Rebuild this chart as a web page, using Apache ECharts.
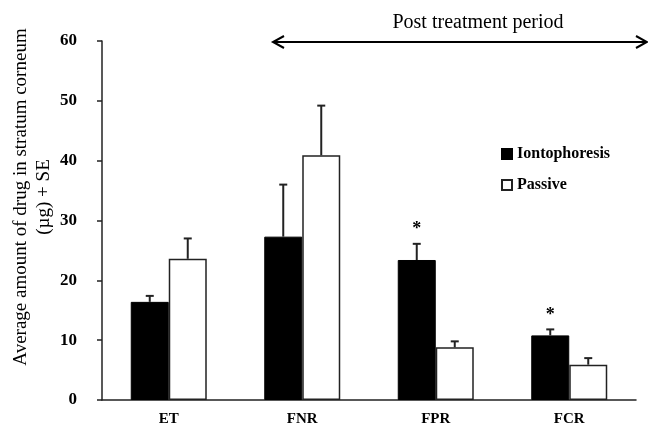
<!DOCTYPE html>
<html>
<head>
<meta charset="utf-8">
<script src="https://cdn.jsdelivr.net/npm/echarts@6/dist/echarts.min.js"></script>
<style>
  html, body { margin: 0; padding: 0; background: #fff; }
  #mycharts { width: 648px; height: 435px; }
</style>
</head>
<body>
<div id="mycharts"></div>
<script>
// data
var categories = ["ET", "FNR", "FPR", "FCR"];
var ionto = [16.4, 27.3, 23.4, 10.8];
var iontoSE = [1.0, 8.7, 2.7, 1.0];
var passive = [23.6, 40.9, 8.8, 5.9];
var passiveSE = [3.4, 8.3, 1.0, 1.1];
var starred = [false, false, true, true];
var yTicks = { min: 0, max: 60, interval: 10 };

var serif = "Liberation Serif";
var barW = 38;

function errData(vals, se) {
  return vals.map(function (v, i) { return [i, v, v + se[i]]; });
}

function errRender(offset) {
  return function (params, api) {
    var top = api.coord([api.value(0), api.value(2)]);
    var bot = api.coord([api.value(0), api.value(1)]);
    var x = top[0] + offset;
    var style = { stroke: "#222", lineWidth: 2 };
    return {
      type: "group",
      children: [
        { type: "line", shape: { x1: x, y1: bot[1], x2: x, y2: top[1] }, style: style },
        { type: "line", shape: { x1: x - 4, y1: top[1], x2: x + 4, y2: top[1] }, style: style }
      ]
    };
  };
}

var starData = [];
ionto.forEach(function (v, i) {
  if (starred[i]) starData.push([i, v + iontoSE[i]]);
});

var myCharts = echarts.init(document.getElementById("mycharts"));
var option = {
  backgroundColor: "#fff",
  animation: false,
  grid: { left: 102, right: 12, top: 41, bottom: 35 },
  legend: {
    orient: "vertical",
    left: 496,
    top: 141,
    icon: "rect",
    itemWidth: 10,
    itemHeight: 10,
    itemGap: 15,
    data: ["Iontophoresis", "Passive"],
    textStyle: { fontFamily: serif, fontWeight: "bold", fontSize: 16, color: "#000" }
  },
  xAxis: {
    type: "category",
    data: categories,
    axisLine: { lineStyle: { color: "#222", width: 1.5 } },
    axisTick: { length: 5, lineStyle: { color: "#222", width: 1.5 } },
    axisLabel: { fontFamily: serif, fontWeight: "bold", fontSize: 15, color: "#000", margin: 12 }
  },
  yAxis: {
    type: "value",
    min: yTicks.min,
    max: yTicks.max,
    interval: yTicks.interval,
    splitLine: { show: false },
    axisLine: { show: true, lineStyle: { color: "#222", width: 1.5 } },
    axisTick: { show: true, length: 5, lineStyle: { color: "#222", width: 1.5 } },
    axisLabel: { fontFamily: serif, fontWeight: "bold", fontSize: 17, color: "#000", margin: 25 }
  },
  graphic: [
    {
      type: "text",
      x: 33, y: 197, rotation: Math.PI / 2,
      style: {
        text: "Average amount of drug in stratum corneum\n(\u00b5g) + SE",
        fontFamily: serif,
        fontSize: 19,
        lineHeight: 23,
        fill: "#000",
        align: "center",
        verticalAlign: "middle"
      }
    },
    {
      type: "text",
      x: 478, y: 23,
      style: {
        text: "Post treatment period",
        fontFamily: serif, fontSize: 20, fill: "#000",
        align: "center", verticalAlign: "middle"
      }
    },
    { type: "line", shape: { x1: 273, y1: 42, x2: 646, y2: 42 }, style: { stroke: "#000", lineWidth: 2 } },
    { type: "polyline", shape: { points: [[284, 36], [273, 42], [284, 48]] }, style: { stroke: "#000", lineWidth: 2, fill: null } },
    { type: "polyline", shape: { points: [[636, 36], [647, 42], [636, 48]] }, style: { stroke: "#000", lineWidth: 2, fill: null } }
  ],
  series: [
    {
      name: "Iontophoresis",
      type: "bar",
      data: ionto,
      barWidth: barW,
      barGap: "0%",
      itemStyle: { color: "#000", borderColor: "#000", borderWidth: 1 }
    },
    {
      name: "Passive",
      type: "bar",
      data: passive,
      barWidth: barW,
      itemStyle: { color: "#fff", borderColor: "#222", borderWidth: 1.5 }
    },
    {
      type: "custom",
      renderItem: errRender(-barW / 2),
      data: errData(ionto, iontoSE),
      z: 5
    },
    {
      type: "custom",
      renderItem: errRender(barW / 2),
      data: errData(passive, passiveSE),
      z: 5
    },
    {
      type: "custom",
      data: starData,
      z: 5,
      renderItem: function (params, api) {
        var p = api.coord([api.value(0), api.value(1)]);
        return {
          type: "text",
          style: {
            text: "*", x: p[0] - barW / 2, y: p[1] - 5,
            fontFamily: serif, fontSize: 18, fontWeight: "bold", fill: "#000",
            align: "center", verticalAlign: "bottom"
          }
        };
      }
    }
  ]
};
myCharts.setOption(option);
</script>
</body>
</html>
